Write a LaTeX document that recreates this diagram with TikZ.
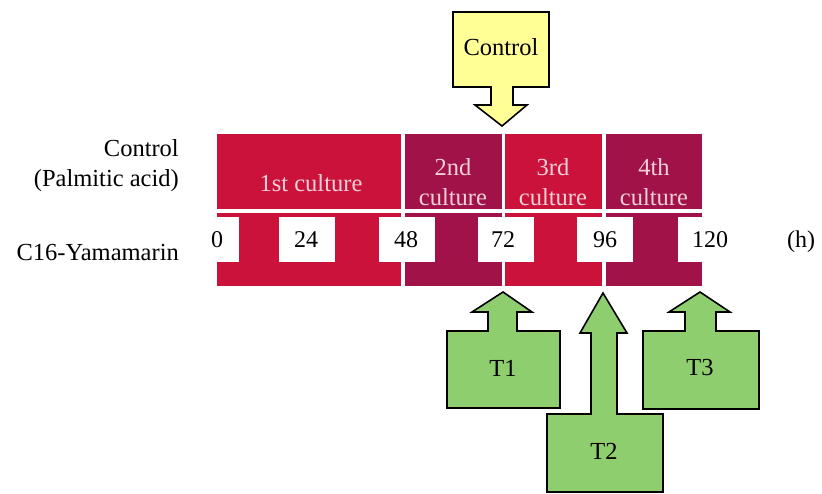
\documentclass[tikz,border=0pt]{standalone}
\usepackage{fontspec}
\setmainfont{Liberation Serif}
\definecolor{redA}{RGB}{203,18,58}
\definecolor{redB}{RGB}{160,18,72}
\definecolor{yel}{RGB}{255,255,150}
\definecolor{grn}{RGB}{143,206,110}
\definecolor{pinktxt}{RGB}{242,208,216}
\tikzset{
  segtxt/.style={text=pinktxt, align=center, font=\fontsize{24.5}{30}\selectfont},
  numbox/.style={fill=white, minimum width=56pt, minimum height=45pt, inner sep=0pt},
  numtxt/.style={font=\fontsize{24}{28}\selectfont, anchor=base},
  lab/.style={font=\fontsize{24.5}{28}\selectfont, anchor=base east, inner sep=0pt},
  blockarrow/.style={draw=black, line width=1.6pt, line join=miter},
  arrtxt/.style={font=\fontsize{24.5}{28}\selectfont}
}
\begin{document}
\begin{tikzpicture}[x=1pt,y=-1pt]
\useasboundingbox (0,0) rectangle (822,494);
% top row segments
\fill[redA] (217,134) rectangle (401,209);
\fill[redB] (405,134) rectangle (502,209);
\fill[redA] (505,134) rectangle (602,209);
\fill[redB] (606,134) rectangle (702,209);
% bottom row segments
\fill[redA] (217,213) rectangle (401,286);
\fill[redB] (405,213) rectangle (502,286);
\fill[redA] (505,213) rectangle (602,286);
\fill[redB] (606,213) rectangle (702,286);
% segment labels
\node[segtxt] (s1) at (311,183) {1st culture};
\node[segtxt] (s2) at (453,182) {2nd\\culture};
\node[segtxt] (s3) at (553,182) {3rd\\culture};
\node[segtxt] (s4) at (654,182) {4th\\culture};
% number boxes
\node[numbox] (b0) at (211,240) {};
\node[numbox] (b24) at (307,240) {};
\node[numbox] (b48) at (407,240) {};
\node[numbox] (b72) at (506,240) {};
\node[numbox] (b96) at (605,240) {};
\node[numbox] (b120) at (706,240) {};
\node[numtxt] (n0) at (217,248) {0};
\node[numtxt] (n24) at (306,248) {24};
\node[numtxt] (n48) at (406,248) {48};
\node[numtxt] (n72) at (503,248) {72};
\node[numtxt] (n96) at (605,248) {96};
\node[numtxt] (n120) at (710,248) {120};
\node[numtxt] (h) at (801,248) {(h)};
% left labels
\node[lab] (l1) at (179,157) {Control};
\node[lab] (l2) at (179,187) {(Palmitic acid)};
\node[lab] (l3) at (179,261) {C16-Yamamarin};
% control arrow
\draw[blockarrow, fill=yel] (453,12) -- (549,12) -- (549,87) -- (513,87) -- (513,105) -- (527,105)
  -- (502,126) -- (475,105) -- (491,105) -- (491,87) -- (453,87) -- cycle;
\node[arrtxt] (ctl) at (501,47) {Control};
% T1
\draw[blockarrow, fill=grn] (447,408) -- (447,331) -- (488,331) -- (488,312) -- (472,312) -- (503,292)
  -- (532,312) -- (517,312) -- (517,331) -- (560,331) -- (560,408) -- cycle;
\node[arrtxt] (t1) at (503,368) {T1};
% T2
\draw[blockarrow, fill=grn] (547,492) -- (547,414) -- (591,414) -- (591,333) -- (580,333) -- (603,293)
  -- (627,333) -- (617,333) -- (617,414) -- (663,414) -- (663,492) -- cycle;
\node[arrtxt] (t2) at (604,451) {T2};
% T3
\draw[blockarrow, fill=grn] (643,409) -- (643,331) -- (685,331) -- (685,312) -- (669,312) -- (700,292)
  -- (730,312) -- (716,312) -- (716,331) -- (759,331) -- (759,409) -- cycle;
\node[arrtxt] (t3) at (700,368) {T3};
\end{tikzpicture}
\end{document}
